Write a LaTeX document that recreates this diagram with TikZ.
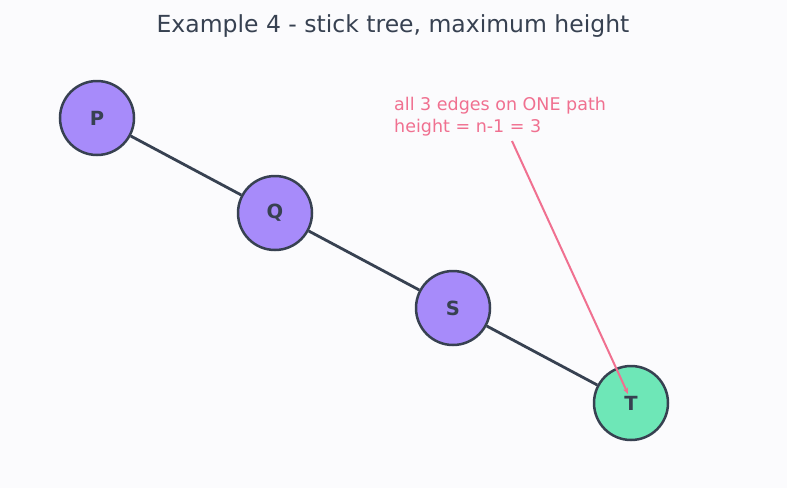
\documentclass[tikz,border=0pt]{standalone}
\usepackage{fontspec}
\setmainfont{DejaVu Sans}
\usetikzlibrary{arrows.meta}
\definecolor{bgcol}{HTML}{FBFBFD}
\definecolor{inkcol}{HTML}{374151}
\definecolor{purplecol}{HTML}{A78BFA}
\definecolor{greencol}{HTML}{6EE7B7}
\definecolor{notecol}{HTML}{F07090}
\tikzset{
    treenode/.style={circle, draw=inkcol, line width=2.5pt, minimum size=74pt, inner sep=0pt,
        font=\fontsize{19.5}{22}\selectfont\bfseries, text=inkcol},
    treeedge/.style={draw=inkcol, line width=2.8pt},
    notetext/.style={anchor=base west, text=notecol, inner sep=0pt,
        font=\fontsize{17.5}{22}\selectfont}
}
\begin{document}
\begin{tikzpicture}[x=1pt, y=-1pt]
    % Background
    \fill[bgcol] (0,0) rectangle (787,488);
    \useasboundingbox (0,0) rectangle (787,488);

    % Title
    \node[anchor=base, text=inkcol, font=\fontsize{23.5}{26}\selectfont] (title) at (393,32) {Example 4 - stick tree, maximum height};

    % Nodes
    \node[treenode, fill=purplecol] (P) at (97,118) {P};
    \node[treenode, fill=purplecol] (Q) at (275,213) {Q};
    \node[treenode, fill=purplecol] (S) at (453,308) {S};
    \node[treenode, fill=greencol] (T) at (631,403) {T};

    % Edges
    \draw[treeedge] (P) -- (Q);
    \draw[treeedge] (Q) -- (S);
    \draw[treeedge] (S) -- (T);

    % Note
    \node[notetext] (note1) at (394,110) {all 3 edges on ONE path};
    \node[notetext] (note2) at (394,132) {height = n-1 = 3};
    \coordinate (notefoot) at (512,141);
    \coordinate (ttip) at (628,394);
    \draw[-{Stealth[length=6pt,width=5pt]}, notecol, line width=2pt] (notefoot) -- (ttip);
\end{tikzpicture}
\end{document}
